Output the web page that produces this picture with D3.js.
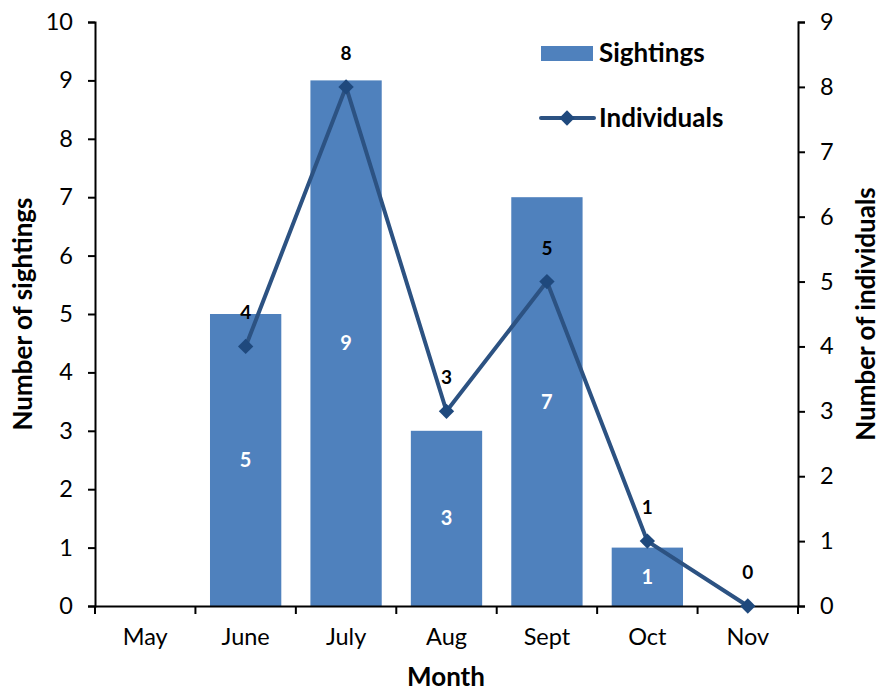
<!DOCTYPE html>
<html>
<head>
<meta charset="utf-8">
<script src="https://cdn.jsdelivr.net/npm/d3@7"></script>
<style>
body { margin: 0; background: #fff; }
svg { font-family: Lato, "DejaVu Sans", sans-serif; }
</style>
</head>
<body>
<svg id="chart" width="880" height="693"></svg>
<script>
// data
var months = ["May", "June", "July", "Aug", "Sept", "Oct", "Nov"];
var sightings = [0, 5, 9, 3, 7, 1, null];
var individuals = [null, 4, 8, 3, 5, 1, 0];
var leftTicks = [0, 1, 2, 3, 4, 5, 6, 7, 8, 9, 10];
var rightTicks = [0, 1, 2, 3, 4, 5, 6, 7, 8, 9];

var svg = d3.select("#chart");
var m = {left: 95, right: 798, top: 22, bottom: 606};

var x = d3.scaleBand().domain(months).range([m.left, m.right]).paddingInner(0.29).paddingOuter(0.145);
var xb = d3.scaleBand().domain(months).range([m.left, m.right]);
var yL = d3.scaleLinear().domain([0, 10]).range([m.bottom, m.top]);
var yR = d3.scaleLinear().domain([0, 9]).range([m.bottom, m.top]);

var barColor = "#4F81BD", lineColor = "#2C5282", markColor = "#1F497D";

// bars
var rows = months.map((d, i) => ({m: d, s: sightings[i], n: individuals[i]}));
svg.append("g").selectAll("rect")
	.data(rows.filter(d => d.s))
	.enter().append("rect")
		.attr("x", d => x(d.m))
		.attr("width", x.bandwidth())
		.attr("y", d => yL(d.s))
		.attr("height", d => yL(0) - yL(d.s))
		.attr("fill", barColor);

// bar value labels
svg.append("g").selectAll("text")
	.data(rows.filter(d => d.s))
	.enter().append("text")
		.attr("x", d => xb(d.m) + xb.bandwidth() / 2)
		.attr("y", d => (yL(d.s) + yL(0)) / 2 + 7)
		.attr("text-anchor", "middle")
		.attr("fill", "#fff")
		.attr("font-size", 20)
		.attr("font-weight", "bold")
		.text(d => d.s);

// axes
function styleAxis(g) {
	g.selectAll("path, line").attr("stroke", "#000").attr("stroke-width", 2);
	g.selectAll("text").attr("font-size", 23.5).attr("fill", "#000").attr("font-family", "Lato");
}
svg.append("g")
	.attr("transform", `translate(${m.left},0)`)
	.call(d3.axisLeft(yL).tickValues(leftTicks).tickSize(7).tickSizeOuter(7).tickPadding(15))
	.call(styleAxis);
svg.append("g")
	.attr("transform", `translate(${m.right},0)`)
	.call(d3.axisRight(yR).tickValues(rightTicks).tickSize(7).tickSizeOuter(7).tickPadding(15))
	.call(styleAxis);
var xAxis = svg.append("g")
	.attr("transform", `translate(0,${m.bottom})`)
	.call(d3.axisBottom(xb).tickSize(0).tickSizeOuter(0).tickPadding(22))
	.call(styleAxis);
xAxis.selectAll(".bnd").data(months.concat(["end"]))
	.enter().append("line")
		.attr("x1", (d, i) => m.left + i * xb.bandwidth())
		.attr("x2", (d, i) => m.left + i * xb.bandwidth())
		.attr("y1", 0).attr("y2", 8)
		.attr("stroke", "#000").attr("stroke-width", 2);

// individuals line
var pts = rows.filter(d => d.n !== null);
var line = d3.line()
	.x(d => xb(d.m) + xb.bandwidth() / 2)
	.y(d => yR(d.n));
svg.append("path")
	.datum(pts)
	.attr("d", line)
	.attr("fill", "none")
	.attr("stroke", lineColor)
	.attr("stroke-width", 4);
svg.append("g").selectAll("path")
	.data(pts)
	.enter().append("path")
		.attr("d", d3.symbol(d3.symbolDiamond2, 150))
		.attr("transform", d => `translate(${xb(d.m) + xb.bandwidth() / 2},${yR(d.n)})`)
		.attr("fill", markColor);
svg.append("g").selectAll("text")
	.data(pts)
	.enter().append("text")
		.attr("x", d => xb(d.m) + xb.bandwidth() / 2)
		.attr("y", d => yR(d.n) - 27)
		.attr("text-anchor", "middle")
		.attr("font-size", 19)
		.attr("font-weight", "bold")
		.text(d => d.n);

// axis titles
svg.append("text")
	.attr("transform", "translate(32,314) rotate(-90)")
	.attr("text-anchor", "middle")
	.attr("font-size", 26).attr("font-weight", "bold")
	.text("Number of sightings");
svg.append("text")
	.attr("transform", "translate(875,314) rotate(-90)")
	.attr("text-anchor", "middle")
	.attr("font-size", 26).attr("font-weight", "bold")
	.text("Number of individuals");
svg.append("text")
	.attr("x", 446).attr("y", 686)
	.attr("text-anchor", "middle")
	.attr("font-size", 26).attr("font-weight", "bold")
	.text("Month");

// legend
var lg = svg.append("g");
lg.append("rect").attr("x", 541).attr("y", 46).attr("width", 52).attr("height", 15).attr("fill", barColor);
lg.append("text").attr("x", 599).attr("y", 62).attr("font-size", 26).attr("font-weight", "bold").text("Sightings");
lg.append("line").attr("x1", 541).attr("x2", 594).attr("y1", 118).attr("y2", 118)
	.attr("stroke", lineColor).attr("stroke-width", 4).attr("stroke-linecap", "round");
lg.append("path").attr("d", d3.symbol(d3.symbolDiamond2, 150))
	.attr("transform", "translate(567,118)").attr("fill", markColor);
lg.append("text").attr("x", 599).attr("y", 127).attr("font-size", 26).attr("font-weight", "bold").text("Individuals");
</script>
</body>
</html>
